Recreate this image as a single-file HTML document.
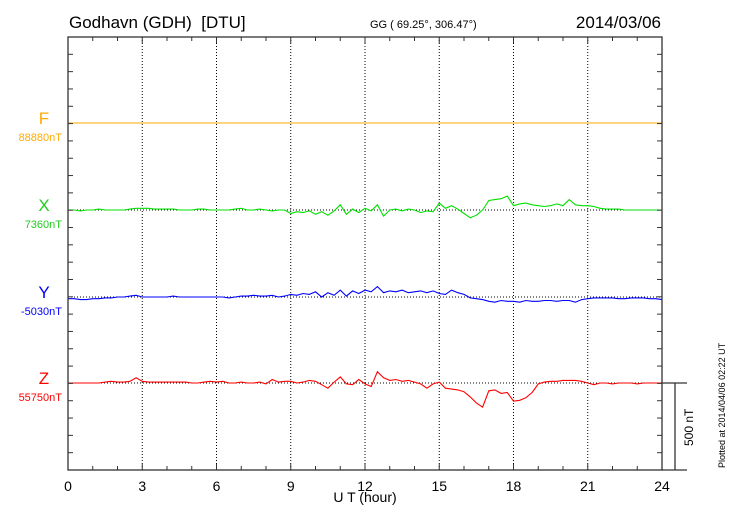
<!DOCTYPE html>
<html><head><meta charset="utf-8"><style>
body{margin:0;background:#fff;}
svg{display:block;font-family:"Liberation Sans",sans-serif;}
</style></head><body>
<svg id="chart" width="730" height="520" viewBox="0 0 730 520" xmlns="http://www.w3.org/2000/svg">
<text x="69" y="28" font-size="17" xml:space="preserve">Godhavn (GDH)&#160; [DTU]</text>
<text x="370" y="28" font-size="11">GG ( 69.25°, 306.47°)</text>
<text x="661" y="28" font-size="17" text-anchor="end">2014/03/06</text>
<text x="365" y="502" font-size="14" text-anchor="middle">U T (hour)</text>
<text transform="translate(725,468) rotate(-90)" font-size="9">Plotted at 2014/04/06 02:22 UT</text>
<text transform="translate(693,446) rotate(-90)" font-size="12">500 nT</text>
<g id="grid"></g><g id="series"></g><g id="axes"></g>
</svg>
<script>
const hours=[];for(let i=0;i<=96;i++)hours.push(i/4);
const valsF=new Array(97).fill(0);
const valsX=[0,0,-5,0,0,5,0,0,0,0,5,10,10,10,5,5,5,5,0,0,0,5,5,0,0,0,0,5,10,0,0,5,0,-5,0,0,-20,-10,-15,-5,-25,-10,-30,-5,30,-25,5,-15,10,-5,30,-35,0,5,-5,5,0,-15,-5,-10,40,10,25,5,-20,-45,-30,0,55,60,65,80,25,35,40,30,25,20,25,35,25,60,30,25,25,20,10,5,5,5,0,0,0,0,0,0,0];
const valsY=[-10,-10,-15,-15,-10,-10,-5,-5,0,0,5,10,0,0,0,0,0,5,0,0,0,0,0,0,0,0,-5,0,5,5,10,5,5,10,0,5,15,10,20,15,30,0,25,10,40,5,35,20,40,30,60,25,35,30,40,25,30,35,25,35,20,15,40,25,15,-5,-10,-15,-25,-30,-20,-25,-25,-30,-20,-25,-25,-20,-20,-25,-20,-20,-30,-15,-10,-5,-5,-5,-5,-10,-10,-5,-5,-5,-10,-10,-15];
const valsZ=[0,0,0,0,0,0,5,10,5,5,10,30,10,5,5,5,5,5,5,5,0,0,5,10,5,10,0,0,5,0,0,5,-5,20,5,10,10,0,5,15,10,-10,-30,5,35,-5,-10,20,-5,-20,65,30,15,20,10,15,5,-5,-30,-5,5,-30,-35,-40,-50,-80,-115,-140,-45,-40,-60,-55,-105,-100,-85,-55,-5,5,10,10,15,15,15,10,0,-10,0,0,-5,0,0,0,-5,0,0,0,0];
const components=['F','X','Y','Z'];
const baseValues=['88880nT','7360nT','-5030nT','55750nT'];
const xTicks=[0,3,6,9,12,15,18,21,24];
const NS='http://www.w3.org/2000/svg';
const L=68,R=662,T=37,B=470;
const baselines=[123,210,297,383];
const colors=['#ffaa00','#00e000','#0000ff','#ff0000'];
const labelColors=['#ffaa00','#22cc22','#0000ff','#ff0000'];
const pxPerNT=17.32/100;
const xs=h=>L+(R-L)*h/24;
const ys=(v,i)=>baselines[i]-v*pxPerNT;
function mk(tag,attrs,parent){const e=document.createElementNS(NS,tag);for(const k in attrs)e.setAttribute(k,attrs[k]);parent.appendChild(e);return e;}
const grid=document.getElementById('grid'),ser=document.getElementById('series'),ax=document.getElementById('axes');
xTicks.forEach(h=>{if(h>0&&h<24){const g=mk('line',{x1:xs(h),x2:xs(h),y1:T,y2:B,stroke:'#000','stroke-width':1,'stroke-dasharray':'1,2'},grid);

}
const t=mk('text',{x:xs(h),y:491,'font-size':14,'text-anchor':'middle'},ax);t.textContent=h;

});
for(let h=0;h<=24;h++){const len=(h%3==0)?6:4;mk('line',{x1:xs(h),x2:xs(h),y1:B,y2:B-len,stroke:'#333'},ax);mk('line',{x1:xs(h),x2:xs(h),y1:T,y2:T+len,stroke:'#333'},ax);}
for(let k=1;k<25;k++){const y=T+17.32*k;mk('line',{x1:L,x2:L+5,y1:y,y2:y,stroke:'#333'},ax);mk('line',{x1:R,x2:R-5,y1:y,y2:y,stroke:'#333'},ax);}
const data=[valsF,valsX,valsY,valsZ];
data.forEach((vals,i)=>{
const b=mk('line',{x1:L,x2:R,y1:baselines[i],y2:baselines[i],stroke:'#000','stroke-dasharray':'1,2'},grid);


const p=mk('polyline',{points:vals.map((v,j)=>xs(hours[j]).toFixed(1)+','+ys(v,i).toFixed(1)).join(' '),fill:'none',stroke:colors[i],'stroke-width':1.1},ser);


const c=mk('text',{x:44,y:baselines[i]+1,'font-size':17,fill:labelColors[i],'text-anchor':'middle'},ax);c.textContent=components[i];


const bv=mk('text',{x:62,y:baselines[i]+18,'font-size':11,fill:labelColors[i],'text-anchor':'end'},ax);bv.textContent=baseValues[i];


});
const fr=mk('rect',{x:L,y:T,width:R-L,height:B-T,fill:'none',stroke:'#333','stroke-width':1.3},ax);


mk('line',{x1:R,x2:687,y1:B,y2:B,stroke:'#333','stroke-width':1.3},ax);
const sb=mk('path',{d:'M'+R+',383 H687 M675,383 V470',stroke:'#333','stroke-width':1.3,fill:'none'},ax);


</script>
</body></html>
